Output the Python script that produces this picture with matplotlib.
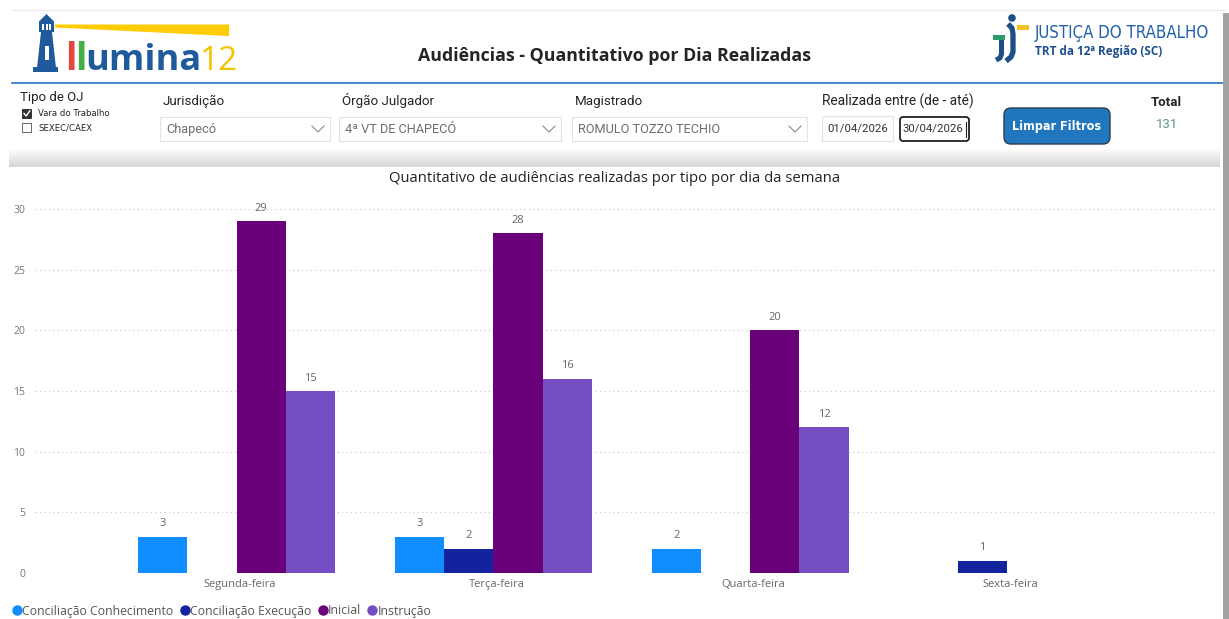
import numpy as np
import matplotlib
matplotlib.use('Agg')
import matplotlib.pyplot as plt
from matplotlib import font_manager
from matplotlib.patches import Rectangle, FancyBboxPatch, Polygon, Circle
from matplotlib.lines import Line2D
from matplotlib.colors import LinearSegmentedColormap

# dados do gráfico
dias = ['Segunda-feira', 'Terça-feira', 'Quarta-feira', 'Sexta-feira']
series = ['Conciliação Conhecimento', 'Conciliação Execução', 'Inicial', 'Instrução']
conc_conhecimento = [3, 3, 2, 0]
conc_execucao = [0, 2, 0, 1]
inicial = [29, 28, 20, 0]
instrucao = [15, 16, 12, 0]
cores = ['#118DFF', '#12239E', '#6B007B', '#744EC2']
y_ticks = [0, 5, 10, 15, 20, 25, 30]

# filtros do painel
tipos_oj = ['Vara do Trabalho', 'SEXEC/CAEX']
filtros = ['Jurisdição', 'Órgão Julgador', 'Magistrado']
valores_filtro = ['Chapecó', '4ª VT DE CHAPECÓ', 'ROMULO TOZZO TECHIO']
data_de = '01/04/2026'
data_ate = '30/04/2026'
total = sum(conc_conhecimento) + sum(conc_execucao) + sum(inicial) + sum(instrucao)

nomes = {f.name for f in font_manager.fontManager.ttflist}

def primeira(*opcoes):
    for n in opcoes:
        if n in nomes:
            return n
    return 'DejaVu Sans'

ui = primeira('Open Sans', 'Noto Sans', 'Lato')
din = primeira('Roboto', 'Lato', 'Open Sans')
if 'Liberation Sans Narrow' in nomes:
    estreita = dict(family='Liberation Sans Narrow')
else:
    estreita = dict(family='DejaVu Sans', stretch='condensed')

fig = plt.figure(figsize=(12.29, 6.19), dpi=100)
bg = fig.add_axes([0, 0, 1, 1])
bg.axis('off')
fig.canvas.draw()
rend = fig.canvas.get_renderer()


def ajusta(t, largura):
    # acerta o tamanho da fonte para o texto ocupar a largura pedida (px)
    bb = t.get_window_extent(rend)
    t.set_fontsize(t.get_fontsize() * largura / bb.width)


bg.set_xlim(0, 1229)
bg.set_ylim(619, 0)

# ---- cabeçalho ----
bg.plot([12, 1225], [10, 10], color='#ececec', lw=0.8)
bg.plot([12, 1225], [83, 83], color='#3b7dc4', lw=1.3)
bg.add_patch(Rectangle((1223, 13), 6, 606, color='#a3a3a3', lw=0, zorder=5))

bg.text(615, 56, 'Audiências - Quantitativo por Dia Realizadas', ha='center', va='center',
        fontsize=12.8, weight='bold', color='#252423', family=ui)

# logo illumina12
azul_logo = '#1f5b9c'
bg.add_patch(Polygon([(55, 24.5), (229, 24.5), (229, 36), (55, 27.5)], color='#ffcc00', lw=0))
bg.add_patch(Polygon([(37, 68), (41, 32), (52, 32), (56, 68)], color=azul_logo, lw=0))
bg.add_patch(Rectangle((33, 67), 25, 5, color=azul_logo, lw=0))
bg.add_patch(Rectangle((39, 21), 15, 11, color=azul_logo, lw=0))
bg.add_patch(Polygon([(39, 21.5), (46.5, 14), (54, 21.5)], color=azul_logo, lw=0))
bg.add_patch(Rectangle((42, 24), 2.2, 6, color='white', lw=0))
bg.add_patch(Rectangle((45.5, 24), 2.2, 6, color='white', lw=0))
bg.add_patch(Rectangle((49, 24), 2.2, 6, color='white', lw=0))
bg.add_patch(Rectangle((45, 46), 3.5, 14, color='white', lw=0))

xpos = 65
for txt, cor, peso, tam in [('l', '#e0473f', 'bold', 27), ('l', '#45b04a', 'bold', 27),
                            ('umina', azul_logo, 'bold', 26), ('12', '#f5c400', 'normal', 24)]:
    t = bg.text(xpos, 70, txt, ha='left', va='baseline', fontsize=tam, weight=peso,
                color=cor, family=ui)
    bb = t.get_window_extent(rend)
    xpos += bb.width - 1.5

# logo Justiça do Trabalho
azul_jt = '#1b4f85'
bg.add_patch(Circle((1012, 18), 3.8, color=azul_jt, lw=0))
bg.add_patch(Rectangle((1017, 24.5), 12, 5, color='#f2c318', lw=0))
bg.add_patch(Rectangle((993, 35), 12, 5, color='#2e9c6a', lw=0))
bg.plot([1008, 1012, 1013, 1013, 1011, 1006], [24, 28, 34, 52, 57, 61], color=azul_jt, lw=3.8,
        solid_capstyle='butt', solid_joinstyle='round')
bg.plot([1001.5, 1001.5, 1000, 996], [40, 54, 58, 60], color=azul_jt, lw=3.6,
        solid_capstyle='butt', solid_joinstyle='round')
t = bg.text(1035, 38, 'JUSTIÇA DO TRABALHO', ha='left', va='baseline', fontsize=14,
            color='#2260a6', **estreita)
ajusta(t, 175)
bg.text(1035, 55, 'TRT da 12ª Região (SC)', ha='left', va='baseline', fontsize=8.5,
        weight='bold', color='#1d4f8c', family=ui)

# ---- painel de filtros ----
sombra = LinearSegmentedColormap.from_list('sombra', ['#ffffff', '#d6d6d6'])
bg.imshow(np.linspace(0, 1, 30)[:, None], extent=(9, 1220, 167, 148), cmap=sombra,
          aspect='auto', zorder=0)

bg.text(20, 97, 'Tipo de OJ', ha='left', va='center', fontsize=9.5, color='#252423', family=din)
bg.add_patch(Rectangle((22, 109), 9, 9, facecolor='#333333', edgecolor='#333333', lw=0.7))
bg.plot([24, 26.2, 29.8], [113.5, 116, 110.8], color='white', lw=1)
bg.add_patch(Rectangle((22, 123), 9, 9, facecolor='white', edgecolor='#666666', lw=0.7))
for i, t in enumerate(tipos_oj):
    bg.text(38, 114 + 14 * i, t, ha='left', va='center', fontsize=6.8, color='#252423', **estreita)

caixas = [(160, 330), (339, 561), (572, 807)]
for (x0, x1), rot, val in zip(caixas, filtros, valores_filtro):
    bg.text(x0 + 3, 101, rot, ha='left', va='center', fontsize=9.6, color='#252423', family=din)
    bg.add_patch(Rectangle((x0, 117), x1 - x0, 24, facecolor='white', edgecolor='#e3e3e3', lw=0.8))
    bg.text(x0 + 6, 129.5, val, ha='left', va='center', fontsize=9.2, color='#6e6e6e', family=din)
    cx = x1 - 12
    bg.plot([cx - 6, cx, cx + 6], [126, 132, 126], color='#8a8a8a', lw=0.8)

bg.text(822, 101, 'Realizada entre (de - até)', ha='left', va='center', fontsize=9.9,
        color='#252423', family=din)
bg.add_patch(Rectangle((822, 116), 71, 25, facecolor='white', edgecolor='#e3e3e3', lw=0.8))
bg.text(857.5, 129, data_de, ha='center', va='center', fontsize=8.2, color='#333333', family=din)
bg.add_patch(FancyBboxPatch((900, 117), 69, 24, boxstyle='round,pad=0,rounding_size=3',
                            facecolor='white', edgecolor='#222222', lw=1.3))
bg.text(933, 129, data_ate, ha='center', va='center', fontsize=8.2, color='#333333', family=din)
bg.plot([966, 966], [122, 137], color='#222222', lw=0.8)

bg.add_patch(FancyBboxPatch((1004, 108), 106, 36, boxstyle='round,pad=0,rounding_size=7',
                            facecolor='#2177bd', edgecolor='#2c3e50', lw=1))
t = bg.text(1057, 126.5, 'Limpar Filtros', ha='center', va='center', fontsize=10, weight='bold',
            color='white', **estreita)
ajusta(t, 88)

bg.text(1166, 102, 'Total', ha='center', va='center', fontsize=9.5, weight='bold',
        color='#252423', family=din)
bg.text(1167, 125, str(total), ha='center', va='center', fontsize=9.5, color='#5e9a80', family=din)

bg.text(615, 178, 'Quantitativo de audiências realizadas por tipo por dia da semana',
        ha='center', va='center', fontsize=10.7, color='#252423', family=ui)

bg.set_xlim(0, 1229)
bg.set_ylim(619, 0)

# ---- gráfico de barras ----
ax = fig.add_axes([35 / 1229, 46 / 619, 1180 / 1229, 364 / 619])
ax.patch.set_alpha(0)
x = np.arange(len(dias))
w = 0.1918
handles = []
for i, (vals, cor, nome) in enumerate(zip([conc_conhecimento, conc_execucao, inicial, instrucao],
                                         cores, series)):
    pos = x + (i - 1.5) * w
    ax.bar(pos, vals, w, color=cor, zorder=2)
    for p, v in zip(pos, vals):
        if v > 0:
            ax.annotate(str(v), (p, v), xytext=(0, 9.3), textcoords='offset points',
                        ha='center', va='center', fontsize=8, color='#666666', family=ui)
    handles.append(Line2D([], [], marker='o', ls='none', color=cor, markersize=6.5, label=nome))

ax.set_xlim(-0.785, 3.81)
ax.set_ylim(0, 30)
ax.set_yticks(y_ticks)
ax.set_xticks(x + 0.012)
ax.set_xticklabels(dias, family=ui, fontsize=8, color='#666666')
for lab in ax.get_yticklabels():
    lab.set_family(ui)
ax.tick_params(axis='y', length=0, pad=7, labelsize=7.5, labelcolor='#777777')
ax.tick_params(axis='x', length=0, pad=4.5)
ax.grid(axis='y', linestyle=(0, (1, 3)), color='#c4c4c4', lw=0.8, zorder=0)
ax.set_axisbelow(True)
for s in ax.spines.values():
    s.set_visible(False)

fig.legend(handles=handles, loc='center left', bbox_to_anchor=(13 / 1229, 1 - 611 / 619),
           ncol=4, frameon=False, handlelength=0.6, handletextpad=0.15, columnspacing=0.6,
           borderaxespad=0, borderpad=0, prop={'family': ui, 'size': 8.85}, labelcolor='#555555')

fig.savefig('out.png', dpi=100, facecolor='white')
